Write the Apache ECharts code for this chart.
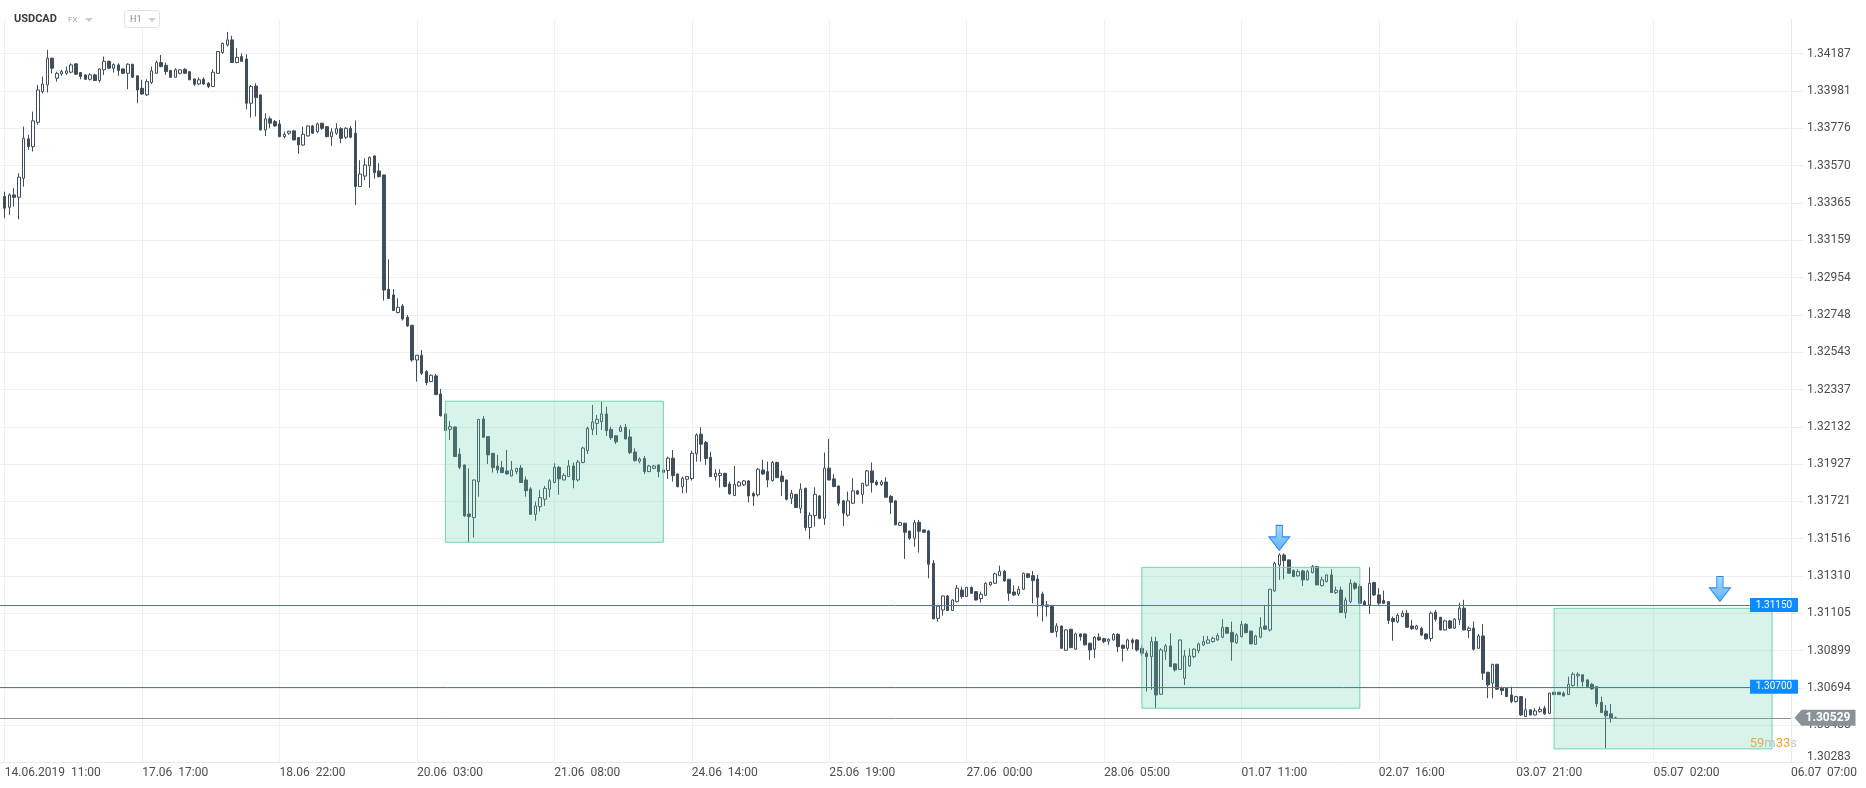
<!DOCTYPE html>
<html><head><meta charset="utf-8">
<script src="https://cdn.jsdelivr.net/npm/echarts@6/dist/echarts.min.js"></script>
<style>html,body{margin:0;padding:0;background:#fff}#c{width:1866px;height:788px}</style>
</head><body><div id="c"></div>
<script>
// ---- axis tick labels ----
const timeTickLabels = ['14.06.2019  11:00','17.06  17:00','18.06  22:00','20.06  03:00','21.06  08:00','24.06  14:00','25.06  19:00','27.06  00:00','28.06  05:00','01.07  11:00','02.07  16:00','03.07  21:00','05.07  02:00','06.07  07:00'];
const priceTicks = [1.30283,1.30488,1.30694,1.30899,1.31105,1.31310,1.31516,1.31721,1.31927,1.32132,1.32337,1.32543,1.32748,1.32954,1.33159,1.33365,1.33570,1.33776,1.33981,1.34187];

// ---- hourly candles [open, close, low, high], one array per 29-hour block ----
const s1406 = [[1.33400,1.33336,1.33281,1.33427],[1.33341,1.33409,1.33299,1.33418],[1.33409,1.33396,1.33345,1.33446],[1.33396,1.33507,1.33275,1.33528],[1.33501,1.33721,1.33455,1.33785],[1.33718,1.33675,1.33657,1.33740],[1.33675,1.33817,1.33648,1.33868],[1.33809,1.33987,1.33795,1.34015],[1.33978,1.34020,1.33969,1.34061],[1.34015,1.34162,1.33973,1.34208],[1.34162,1.34107,1.34079,1.34165],[1.34052,1.34079,1.34033,1.34088],[1.34076,1.34088,1.34065,1.34098],[1.34079,1.34092,1.34070,1.34116],[1.34085,1.34125,1.34079,1.34134],[1.34131,1.34074,1.34070,1.34134],[1.34083,1.34061,1.34046,1.34085],[1.34070,1.34046,1.34043,1.34074],[1.34046,1.34070,1.34039,1.34079],[1.34070,1.34039,1.34037,1.34076],[1.34039,1.34103,1.34028,1.34107],[1.34098,1.34145,1.34070,1.34171],[1.34145,1.34107,1.34101,1.34149],[1.34107,1.34127,1.34083,1.34134],[1.34125,1.34094,1.34065,1.34134],[1.34103,1.34079,1.34074,1.34107],[1.34079,1.34129,1.33991,1.34134],[1.34129,1.34057,1.34055,1.34131],[1.34065,1.33987,1.33914,1.34067]];
const s1706 = [[1.33996,1.33965,1.33960,1.34043],[1.33960,1.34033,1.33954,1.34046],[1.34028,1.34092,1.34020,1.34116],[1.34079,1.34138,1.34076,1.34149],[1.34138,1.34116,1.34112,1.34180],[1.34123,1.34088,1.34070,1.34138],[1.34094,1.34057,1.34057,1.34098],[1.34057,1.34098,1.34055,1.34107],[1.34079,1.34098,1.34074,1.34101],[1.34101,1.34079,1.34076,1.34107],[1.34088,1.34043,1.34043,1.34090],[1.34048,1.34019,1.34010,1.34050],[1.34020,1.34043,1.34015,1.34057],[1.34046,1.34020,1.34015,1.34057],[1.34024,1.34006,1.33997,1.34031],[1.34006,1.34085,1.34004,1.34101],[1.34079,1.34199,1.34076,1.34202],[1.34193,1.34244,1.34186,1.34248],[1.34235,1.34263,1.34226,1.34307],[1.34263,1.34138,1.34136,1.34285],[1.34138,1.34167,1.34134,1.34217],[1.34171,1.34145,1.34143,1.34189],[1.34158,1.33914,1.33881,1.34184],[1.33914,1.34006,1.33835,1.34015],[1.34009,1.33945,1.33841,1.34024],[1.33960,1.33767,1.33765,1.33962],[1.33767,1.33828,1.33734,1.33859],[1.33828,1.33804,1.33776,1.33841],[1.33813,1.33789,1.33785,1.33822]];
const s1806 = [[1.33800,1.33730,1.33727,1.33822],[1.33730,1.33743,1.33721,1.33758],[1.33749,1.33760,1.33740,1.33762],[1.33762,1.33712,1.33710,1.33764],[1.33725,1.33684,1.33635,1.33727],[1.33684,1.33743,1.33679,1.33785],[1.33734,1.33789,1.33730,1.33791],[1.33789,1.33749,1.33745,1.33793],[1.33758,1.33800,1.33749,1.33808],[1.33804,1.33776,1.33767,1.33806],[1.33785,1.33730,1.33727,1.33789],[1.33730,1.33756,1.33679,1.33776],[1.33749,1.33774,1.33740,1.33804],[1.33774,1.33721,1.33694,1.33782],[1.33727,1.33776,1.33716,1.33782],[1.33776,1.33727,1.33721,1.33789],[1.33749,1.33455,1.33354,1.33819],[1.33455,1.33524,1.33455,1.33600],[1.33513,1.33574,1.33491,1.33611],[1.33570,1.33616,1.33449,1.33620],[1.33624,1.33532,1.33499,1.33626],[1.33541,1.33510,1.33505,1.33583],[1.33519,1.32885,1.32827,1.33521],[1.32889,1.32838,1.32836,1.33054],[1.32858,1.32772,1.32770,1.32889],[1.32761,1.32790,1.32757,1.32840],[1.32797,1.32726,1.32717,1.32808],[1.32735,1.32687,1.32684,1.32748],[1.32691,1.32500,1.32491,1.32693]];
const s2006 = [[1.32500,1.32526,1.32381,1.32528],[1.32526,1.32427,1.32417,1.32555],[1.32436,1.32375,1.32360,1.32445],[1.32381,1.32416,1.32378,1.32420],[1.32412,1.32309,1.32307,1.32423],[1.32313,1.32193,1.32188,1.32340],[1.32203,1.32111,1.32111,1.32206],[1.32118,1.32133,1.32060,1.32164],[1.32131,1.31968,1.31965,1.32133],[1.31982,1.31909,1.31898,1.32014],[1.31922,1.31641,1.31637,1.31924],[1.31652,1.31637,1.31496,1.31903],[1.31632,1.31839,1.31522,1.31841],[1.31830,1.32173,1.31747,1.32175],[1.32175,1.32074,1.32072,1.32192],[1.32078,1.31977,1.31927,1.32080],[1.31986,1.31907,1.31880,1.31988],[1.31916,1.31894,1.31876,1.31977],[1.31907,1.31880,1.31876,1.31944],[1.31889,1.31872,1.31870,1.32004],[1.31861,1.31894,1.31858,1.31944],[1.31885,1.31902,1.31870,1.31907],[1.31905,1.31825,1.31823,1.31922],[1.31839,1.31780,1.31747,1.31858],[1.31790,1.31650,1.31648,1.31799],[1.31650,1.31696,1.31615,1.31720],[1.31692,1.31742,1.31665,1.31784],[1.31733,1.31793,1.31696,1.31806],[1.31788,1.31835,1.31744,1.31843]];
const s2106 = [[1.31825,1.31909,1.31821,1.31931],[1.31909,1.31845,1.31757,1.31916],[1.31839,1.31865,1.31838,1.31876],[1.31858,1.31916,1.31856,1.31949],[1.31916,1.31839,1.31793,1.31935],[1.31839,1.31938,1.31830,1.31949],[1.31935,1.32015,1.31931,1.32023],[1.32001,1.32124,1.31982,1.32133],[1.32118,1.32159,1.32087,1.32252],[1.32151,1.32173,1.32087,1.32197],[1.32160,1.32203,1.32115,1.32271],[1.32203,1.32111,1.32082,1.32243],[1.32118,1.32072,1.32060,1.32133],[1.32082,1.32049,1.32037,1.32087],[1.32107,1.32129,1.32104,1.32142],[1.32129,1.32065,1.32063,1.32148],[1.32076,1.31990,1.31982,1.32118],[1.31993,1.31946,1.31940,1.32014],[1.31942,1.31955,1.31931,1.31964],[1.31957,1.31885,1.31872,1.31971],[1.31885,1.31916,1.31883,1.31922],[1.31903,1.31916,1.31898,1.31922],[1.31922,1.31885,1.31854,1.31924],[1.31894,1.31881,1.31878,1.31896],[1.31891,1.31959,1.31845,1.31968],[1.31959,1.31863,1.31830,1.32004],[1.31872,1.31802,1.31799,1.31874],[1.31802,1.31848,1.31766,1.31858],[1.31843,1.31858,1.31769,1.31861]];
const s2406 = [[1.31847,1.31986,1.31836,1.32001],[1.31983,1.32087,1.31940,1.32096],[1.32091,1.32036,1.31940,1.32129],[1.32045,1.31957,1.31922,1.32054],[1.31964,1.31858,1.31856,1.31995],[1.31858,1.31876,1.31836,1.31898],[1.31863,1.31876,1.31797,1.31898],[1.31876,1.31803,1.31799,1.31878],[1.31817,1.31762,1.31760,1.31830],[1.31753,1.31815,1.31751,1.31916],[1.31806,1.31827,1.31803,1.31834],[1.31812,1.31834,1.31806,1.31839],[1.31834,1.31751,1.31715,1.31839],[1.31764,1.31751,1.31696,1.31775],[1.31757,1.31898,1.31748,1.31904],[1.31894,1.31872,1.31867,1.31950],[1.31885,1.31839,1.31799,1.31940],[1.31836,1.31935,1.31830,1.31944],[1.31935,1.31852,1.31849,1.31940],[1.31861,1.31830,1.31751,1.31889],[1.31839,1.31733,1.31726,1.31841],[1.31738,1.31766,1.31707,1.31784],[1.31760,1.31687,1.31685,1.31762],[1.31683,1.31788,1.31656,1.31821],[1.31793,1.31577,1.31560,1.31797],[1.31577,1.31645,1.31513,1.31661],[1.31643,1.31760,1.31582,1.31799],[1.31751,1.31628,1.31623,1.31757],[1.31628,1.31904,1.31592,1.31990]];
const s2506 = [[1.31904,1.31839,1.31837,1.32065],[1.31845,1.31803,1.31799,1.31872],[1.31806,1.31711,1.31696,1.31808],[1.31724,1.31656,1.31586,1.31729],[1.31645,1.31724,1.31637,1.31775],[1.31711,1.31779,1.31707,1.31849],[1.31779,1.31762,1.31757,1.31784],[1.31760,1.31821,1.31709,1.31823],[1.31810,1.31889,1.31803,1.31894],[1.31889,1.31825,1.31770,1.31935],[1.31828,1.31814,1.31806,1.31839],[1.31814,1.31828,1.31806,1.31839],[1.31828,1.31744,1.31742,1.31854],[1.31749,1.31716,1.31652,1.31755],[1.31724,1.31592,1.31590,1.31726],[1.31590,1.31604,1.31586,1.31610],[1.31601,1.31551,1.31404,1.31603],[1.31558,1.31518,1.31509,1.31560],[1.31518,1.31604,1.31472,1.31619],[1.31606,1.31557,1.31439,1.31619],[1.31564,1.31551,1.31549,1.31566],[1.31558,1.31375,1.31298,1.31564],[1.31380,1.31074,1.31072,1.31399],[1.31077,1.31144,1.31059,1.31151],[1.31123,1.31200,1.31092,1.31202],[1.31200,1.31120,1.31118,1.31206],[1.31120,1.31178,1.31118,1.31182],[1.31169,1.31243,1.31164,1.31261],[1.31233,1.31197,1.31186,1.31252]];
const s2706 = [[1.31197,1.31248,1.31195,1.31250],[1.31248,1.31215,1.31211,1.31252],[1.31224,1.31178,1.31176,1.31226],[1.31186,1.31210,1.31164,1.31224],[1.31204,1.31270,1.31200,1.31276],[1.31261,1.31276,1.31256,1.31279],[1.31270,1.31322,1.31267,1.31329],[1.31312,1.31336,1.31311,1.31367],[1.31336,1.31283,1.31279,1.31344],[1.31292,1.31215,1.31173,1.31294],[1.31222,1.31206,1.31200,1.31259],[1.31211,1.31237,1.31200,1.31255],[1.31237,1.31325,1.31233,1.31329],[1.31322,1.31303,1.31298,1.31325],[1.31312,1.31285,1.31160,1.31338],[1.31294,1.31193,1.31087,1.31316],[1.31211,1.31145,1.31059,1.31224],[1.31151,1.31142,1.31087,1.31173],[1.31142,1.31000,1.30995,1.31151],[1.31004,1.31035,1.30973,1.31050],[1.31035,1.30912,1.30911,1.31037],[1.30901,1.31013,1.30899,1.31017],[1.31017,1.30916,1.30912,1.31020],[1.30907,1.30991,1.30906,1.30998],[1.30991,1.30976,1.30954,1.30995],[1.30991,1.30931,1.30927,1.30993],[1.30940,1.30903,1.30848,1.30943],[1.30907,1.30973,1.30857,1.30980],[1.30973,1.30958,1.30954,1.30995]];
const s2806 = [[1.30965,1.30949,1.30940,1.30969],[1.30951,1.30962,1.30931,1.30967],[1.30958,1.30989,1.30954,1.30995],[1.30989,1.30921,1.30890,1.30995],[1.30929,1.30912,1.30839,1.30932],[1.30912,1.30958,1.30899,1.30965],[1.30958,1.30943,1.30907,1.30967],[1.30958,1.30903,1.30894,1.30962],[1.30912,1.30885,1.30870,1.30930],[1.30885,1.30866,1.30674,1.30899],[1.30866,1.30949,1.30683,1.30976],[1.30949,1.30655,1.30582,1.30976],[1.30659,1.30903,1.30655,1.30912],[1.30894,1.30925,1.30848,1.30936],[1.30925,1.30811,1.30809,1.30995],[1.30826,1.30793,1.30784,1.30830],[1.30796,1.30958,1.30793,1.30960],[1.30747,1.30870,1.30710,1.30903],[1.30815,1.30870,1.30811,1.30912],[1.30866,1.30907,1.30857,1.30912],[1.30899,1.30936,1.30885,1.30943],[1.30930,1.30949,1.30925,1.30980],[1.30940,1.30958,1.30936,1.30980],[1.30949,1.30967,1.30943,1.30976],[1.30958,1.30982,1.30954,1.30995],[1.30973,1.31026,1.30967,1.31072],[1.31026,1.30995,1.30991,1.31031],[1.31000,1.30947,1.30844,1.31059],[1.30943,1.30986,1.30936,1.30995]];
const s0107 = [[1.30976,1.31044,1.30973,1.31063],[1.31044,1.30998,1.30995,1.31050],[1.31007,1.30936,1.30936,1.31009],[1.30934,1.30980,1.30931,1.30986],[1.30973,1.31026,1.30967,1.31083],[1.31035,1.31017,1.31015,1.31151],[1.31013,1.31237,1.31004,1.31239],[1.31228,1.31380,1.31224,1.31389],[1.31371,1.31426,1.31289,1.31435],[1.31426,1.31395,1.31292,1.31435],[1.31399,1.31325,1.31323,1.31401],[1.31340,1.31307,1.31303,1.31347],[1.31311,1.31334,1.31307,1.31347],[1.31338,1.31289,1.31255,1.31344],[1.31289,1.31334,1.31285,1.31344],[1.31329,1.31362,1.31325,1.31371],[1.31362,1.31261,1.31259,1.31366],[1.31257,1.31289,1.31252,1.31307],[1.31279,1.31316,1.31276,1.31318],[1.31316,1.31219,1.31217,1.31347],[1.31219,1.31232,1.31211,1.31252],[1.31233,1.31109,1.31107,1.31252],[1.31109,1.31178,1.31077,1.31193],[1.31169,1.31270,1.31160,1.31292],[1.31270,1.31243,1.31233,1.31279],[1.31252,1.31160,1.31151,1.31266],[1.31169,1.31151,1.31145,1.31178],[1.31151,1.31270,1.31101,1.31358],[1.31274,1.31206,1.31200,1.31279]];
const s0207 = [[1.31206,1.31160,1.31151,1.31243],[1.31175,1.31160,1.31156,1.31230],[1.31169,1.31065,1.31046,1.31171],[1.31076,1.31059,1.30954,1.31087],[1.31059,1.31094,1.31050,1.31105],[1.31087,1.31105,1.31083,1.31120],[1.31105,1.31028,1.31026,1.31123],[1.31035,1.31020,1.31013,1.31068],[1.31018,1.31035,1.31013,1.31041],[1.31022,1.30985,1.30980,1.31031],[1.30991,1.30964,1.30958,1.30993],[1.30966,1.31105,1.30949,1.31114],[1.31111,1.31072,1.31059,1.31124],[1.31083,1.31013,1.31010,1.31085],[1.31013,1.31063,1.31010,1.31069],[1.31063,1.31023,1.31019,1.31069],[1.31023,1.31072,1.31019,1.31078],[1.31069,1.31133,1.31041,1.31164],[1.31133,1.31013,1.31011,1.31179],[1.31010,1.31023,1.30968,1.31032],[1.31023,1.30907,1.30900,1.31059],[1.30912,1.30980,1.30909,1.30991],[1.30980,1.30775,1.30738,1.31046],[1.30780,1.30710,1.30637,1.30782],[1.30720,1.30824,1.30637,1.30826],[1.30824,1.30687,1.30683,1.30826],[1.30692,1.30679,1.30655,1.30701],[1.30692,1.30646,1.30644,1.30694],[1.30655,1.30619,1.30610,1.30701]];
const s0307 = [[1.30619,1.30646,1.30613,1.30650],[1.30646,1.30545,1.30540,1.30648],[1.30536,1.30573,1.30534,1.30637],[1.30573,1.30545,1.30543,1.30576],[1.30545,1.30567,1.30543,1.30582],[1.30563,1.30576,1.30558,1.30591],[1.30582,1.30551,1.30545,1.30595],[1.30554,1.30665,1.30551,1.30667],[1.30670,1.30657,1.30655,1.30672],[1.30670,1.30657,1.30655,1.30672],[1.30665,1.30650,1.30646,1.30674],[1.30657,1.30714,1.30655,1.30756],[1.30707,1.30769,1.30701,1.30780],[1.30760,1.30769,1.30701,1.30780],[1.30766,1.30729,1.30701,1.30768],[1.30738,1.30701,1.30699,1.30740],[1.30714,1.30688,1.30683,1.30720],[1.30701,1.30606,1.30588,1.30703],[1.30615,1.30558,1.30556,1.30646],[1.30567,1.30540,1.30362,1.30600],[1.30551,1.30527,1.30503,1.30606],[1.30527,1.30529,1.30523,1.30536]];

// ---- annotations (data coordinates: candle index, price) ----
const zoneBoxes = [[94, 1.32273, 140, 1.31496], [241, 1.31358, 287, 1.30582], [328, 1.31132, 374, 1.30358]];
const levelLines = [1.31150, 1.30700];
const lastPrice = 1.30529;
const signalArrows = [[270, 1.31520], [363, 1.31239]];

// ---- build ----
const STEP = 29;
const categories = [''];
for (let i = 1; i <= STEP * (timeTickLabels.length - 1) + 1; i++) {
  categories.push((i - 1) % STEP === 0 ? timeTickLabels[(i - 1) / STEP] : 'h' + i);
}
const isTick = (idx) => idx >= 1 && (idx - 1) % STEP === 0;
const lastIdx = categories.length - 1;
const candleData = ['-'].concat(s1406, s1706, s1806, s2006, s2106, s2406, s2506, s2706, s2806, s0107, s0207, s0307);

const CANDLE = '#3f4e5a';
const BLUE = '#1289f5';
const arrowPath = 'path://M7,0 L13,0 L13,11 L20,11 L10,24 L0,11 L7,11 Z';

const markPoints = [];
levelLines.forEach(v => markPoints.push({
  coord: [lastIdx, v], symbol: 'rect', symbolSize: [48, 14], symbolOffset: [-17, 0],
  itemStyle: { color: '#0d8bff' },
  label: { show: true, position: 'inside', formatter: v.toFixed(5), color: '#fff', fontSize: 10, fontFamily: 'Roboto' }
}));
markPoints.push({
  coord: [lastIdx, lastPrice], symbol: 'path://M0,8 L7,0 L61,0 L61,16 L7,16 Z', symbolSize: [61, 16], symbolOffset: [34, 0],
  itemStyle: { color: '#8a9297' },
  label: { show: true, position: 'inside', offset: [3, 0], formatter: lastPrice.toFixed(5), color: '#fff', fontSize: 12, fontWeight: 'bold', fontFamily: 'Roboto' }
});
signalArrows.forEach(a => markPoints.push({
  coord: a, symbol: arrowPath, symbolSize: [21, 25],
  itemStyle: { color: { type: 'linear', x: 0, y: 0, x2: 0, y2: 1, colorStops: [{ offset: 0, color: '#a9dafe' }, { offset: 1, color: '#5fb0f6' }] }, borderColor: '#2a8cf0', borderWidth: 1 },
  label: { show: false }
}));

const hLine = (v, color) => [
  { coord: [0, v], lineStyle: { color: color, type: 'solid', width: 1 } },
  { coord: [lastIdx, v] }
];

const chart = echarts.init(document.getElementById('c'), null, { renderer: 'canvas' });
chart.setOption({
  animation: false,
  backgroundColor: '#ffffff',
  textStyle: { fontFamily: 'Roboto' },
  grid: { left: 0, right: 75, top: 19, bottom: 25.5, containLabel: false },
  xAxis: {
    type: 'category', data: categories, boundaryGap: false,
    axisLine: { show: true, lineStyle: { color: '#e8e8e8' } },
    axisTick: { show: false },
    axisLabel: { interval: isTick, align: 'left', margin: 4, color: '#4d4d4d', fontSize: 12, fontFamily: 'Roboto' },
    splitLine: { show: true, interval: isTick, lineStyle: { color: '#f0f0f0' } }
  },
  yAxis: {
    type: 'value', position: 'right', min: priceTicks[0], max: 1.34378, scale: true,
    axisLine: { show: true, lineStyle: { color: '#e8e8e8' } },
    axisTick: { show: true, length: 12, customValues: priceTicks, lineStyle: { color: '#ececec' } },
    axisLabel: {
      customValues: priceTicks, margin: 16, color: '#4d4d4d', fontSize: 12, fontFamily: 'Roboto',
      formatter: v => v === priceTicks[0] ? '{lo|' + v.toFixed(5) + '}' : v.toFixed(5),
      rich: { lo: { color: '#4d4d4d', fontSize: 12, fontFamily: 'Roboto', padding: [0, 0, 11, 0] } }
    },
    splitLine: { show: true, lineStyle: { color: '#f0f0f0' } }
  },
  series: [
    {
      type: 'candlestick', data: candleData, barWidth: 3, z: 2,
      itemStyle: { color: 'rgba(0,0,0,0)', color0: CANDLE, borderColor: CANDLE, borderColor0: CANDLE, borderWidth: 1 }
    },
    {
      type: 'line', data: [], z: 5, silent: true,
      markArea: {
        z: 5, silent: true,
        itemStyle: { color: 'rgba(100,210,170,0.25)', borderColor: '#6fd4ac', borderWidth: 1 },
        data: zoneBoxes.map(b => [{ xAxis: b[0], yAxis: b[1] }, { xAxis: b[2], yAxis: b[3] }])
      },
      markLine: {
        z: 6, silent: true, symbol: ['none', 'none'], label: { show: false },
        lineStyle: { type: 'solid', width: 1 },
        data: levelLines.map(v => hLine(v, BLUE)).concat([hLine(lastPrice, '#8b9398')])
      },
      markPoint: { z: 7, silent: true, data: markPoints }
    }
  ],
  graphic: [
    { type: 'text', z: 100, x: 14, y: 19.5, style: { text: 'USDCAD', fontSize: 11, fontWeight: 'bold', fontFamily: 'Roboto', fill: '#3b3b3b', verticalAlign: 'middle' } },
    { type: 'text', z: 100, x: 68, y: 19.5, style: { text: 'FX', fontSize: 8, fontFamily: 'Roboto', fill: '#a8a8a8', verticalAlign: 'middle' } },
    { type: 'polygon', z: 100, shape: { points: [[85, 18], [93, 18], [89, 22]] }, style: { fill: '#cccccc' } },
    { type: 'rect', z: 100, shape: { x: 124.5, y: 10.5, width: 35, height: 17, r: 3 }, style: { fill: '#ffffff', stroke: '#e1e1e1', lineWidth: 1 } },
    { type: 'text', z: 101, x: 130, y: 19.5, style: { text: 'H1', fontSize: 9, fontFamily: 'Roboto', fill: '#8a8a8a', verticalAlign: 'middle' } },
    { type: 'polygon', z: 101, shape: { points: [[148, 18], [156, 18], [152, 22]] }, style: { fill: '#cccccc' } },
    { type: 'text', z: 100, x: 1797, y: 743.5, style: {
        text: '{a|59}{b|m}{c|33}{d|s}', align: 'right', verticalAlign: 'middle',
        rich: {
          a: { fontSize: 13, fontFamily: 'Roboto', fill: '#e2ab48' },
          b: { fontSize: 13, fontFamily: 'Roboto', fill: '#b7c1c0' },
          c: { fontSize: 13, fontFamily: 'Roboto', fill: '#f8a020' },
          d: { fontSize: 13, fontFamily: 'Roboto', fill: '#c9c9c9' }
        } } }
  ]
});
</script>
</body></html>
